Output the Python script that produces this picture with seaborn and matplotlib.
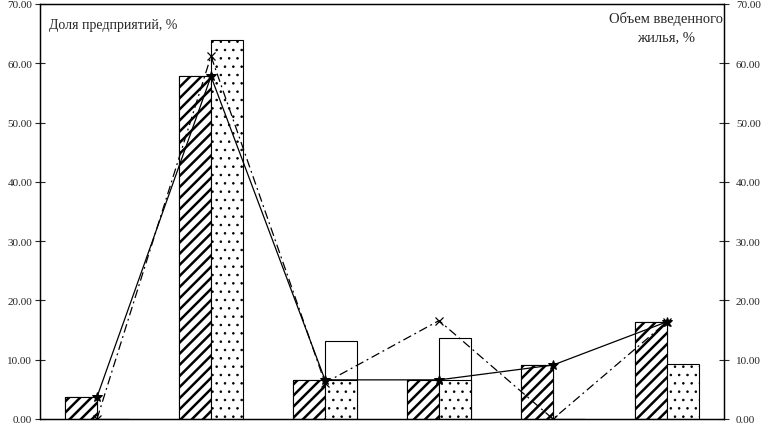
import numpy as np
import pandas as pd
import seaborn as sns
from matplotlib import pyplot as plt

# данные (оценка по рисунку)
groups = ['1', '2', '3', '4', '5', '6']
dolya = [3.7, 57.8, 6.6, 6.6, 9.1, 16.4]        # штриховка
obem = [0.0, 64.0, 6.6, 6.6, 0.0, 9.3]          # точки
obem_b = [0.0, 0.0, 13.2, 13.6, 0.0, 0.0]       # белые столбцы
linia1 = [3.7, 57.8, 6.6, 6.6, 9.1, 16.4]       # сплошная
linia2 = [0.0, 61.2, 6.1, 16.6, 0.0, 16.4]      # штрих-пунктир
yticks = [0, 10, 20, 30, 40, 50, 60, 70]

sns.set_style('ticks')
plt.rcParams['font.family'] = ['Liberation Serif', 'DejaVu Serif']
plt.rcParams['hatch.linewidth'] = 1.8

fig = plt.figure(figsize=(7.66, 4.27), dpi=100)
ax = fig.add_axes([0.0522, 0.0164, 0.893, 0.9719])

df1 = pd.DataFrame({'grp': groups * 2,
                    'val': dolya + obem_b,
                    'ser': ['a'] * 6 + ['b'] * 6})
df2 = pd.DataFrame({'grp': groups * 2,
                    'val': dolya + obem,
                    'ser': ['a'] * 6 + ['c'] * 6})

kw = dict(x='grp', y='val', hue='ser', palette=['white', 'white'], saturation=1,
          edgecolor='black', linewidth=0.8, width=0.56, dodge=True,
          errorbar=None, legend=False, ax=ax)
sns.barplot(data=df1, **kw)
sns.barplot(data=df2, **kw)

hatches = ['///', '', '///', '..']
hlw = [1.8, 1.0, 1.8, 0.6]
for cont, h, lw in zip(ax.containers, hatches, hlw):
    for bar in cont:
        bar.set_hatch(h)
        bar.set_edgecolor('black')
        if hasattr(bar, 'set_hatch_linewidth'):
            bar.set_hatch_linewidth(lw)

xpos = np.arange(len(groups))
sns.lineplot(x=xpos, y=linia1, color='black', lw=0.9, marker='*', ms=7,
             mec='black', mfc='black', ax=ax)
sns.lineplot(x=xpos, y=linia2, color='black', lw=0.9, marker='x', ms=6,
             mec='black', mew=0.9, ax=ax)
ax.lines[-1].set_dashes([7, 3, 1.5, 3])

ax.set_xlim(-0.5, 5.5)
ax.set_ylim(0, 70)
ax.set_yticks(yticks)
ax.set_yticklabels([f'{v:.2f}' for v in yticks])
ax.set_xticks([])
ax.set_xlabel('')
ax.set_ylabel('')
ax.tick_params(axis='y', direction='inout', length=7, width=0.8, labelsize=8, pad=2)

ax2 = ax.twinx()
ax2.set_ylim(0, 70)
ax2.set_yticks(yticks)
ax2.set_yticklabels([f'{v:.2f}' for v in yticks])
ax2.tick_params(axis='y', direction='inout', length=7, width=0.8, labelsize=8, pad=5)

for a in (ax, ax2):
    for s in a.spines.values():
        s.set_visible(True)
        s.set_linewidth(0.9)
        s.set_color('black')

ax.text(0.013, 0.966, 'Доля предприятий, %', transform=ax.transAxes,
        ha='left', va='top', fontsize=10)
ax.text(0.915, 0.982, 'Объем введенного\nжилья, %', transform=ax.transAxes,
        ha='center', va='top', fontsize=10.5, linespacing=1.45)

plt.savefig('out.png', dpi=100)
